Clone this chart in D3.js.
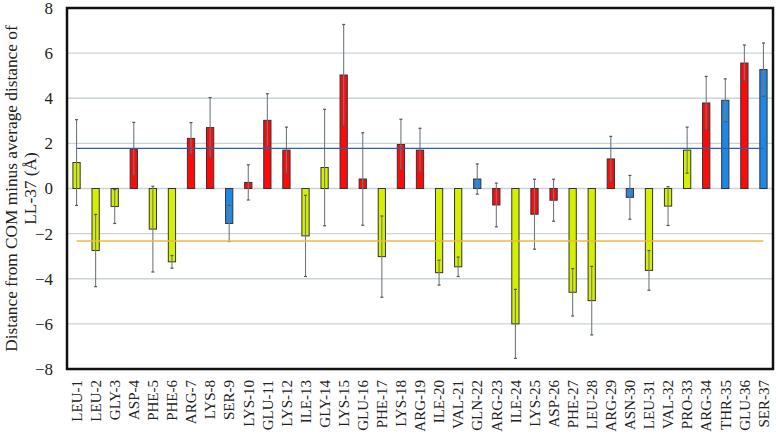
<!DOCTYPE html>
<html>
<head>
<meta charset="utf-8">
<script src="https://cdn.jsdelivr.net/npm/d3@7"></script>
<style>
  body { margin: 0; background: #fff; }
</style>
</head>
<body>
<div id="chart-area"></div>
<script>
const residues = ["LEU-1","LEU-2","GLY-3","ASP-4","PHE-5","PHE-6","ARG-7","LYS-8","SER-9","LYS-10",
  "GLU-11","LYS-12","ILE-13","GLY-14","LYS-15","GLU-16","PHE-17","LYS-18","ARG-19","ILE-20",
  "VAL-21","GLN-22","ARG-23","ILE-24","LYS-25","ASP-26","PHE-27","LEU-28","ARG-29","ASN-30",
  "LEU-31","VAL-32","PRO-33","ARG-34","THR-35","GLU-36","SER-37"];
const values = [1.15,-2.75,-0.8,1.75,-1.8,-3.25,2.22,2.7,-1.55,0.27,
  3.02,1.7,-2.1,0.93,5.03,0.42,-3.02,1.95,1.7,-3.73,
  -3.47,0.42,-0.73,-6.0,-1.14,-0.52,-4.6,-4.97,1.31,-0.39,
  -3.63,-0.78,1.7,3.79,3.91,5.56,5.27];
const errors = [1.9,1.6,0.75,1.18,1.9,0.28,0.7,1.33,0.8,0.78,
  1.18,1.02,1.8,2.58,2.24,2.05,1.8,1.12,0.97,0.55,
  0.43,0.67,0.97,1.53,1.55,0.93,1.05,1.52,1.0,0.97,
  0.88,0.86,1.02,1.18,0.95,0.8,1.18];
// residue class: h = hydrophobic, c = charged, p = polar
const classes = ["h","h","h","c","h","h","c","c","p","c",
  "c","c","h","h","c","c","h","c","c","h",
  "h","p","c","h","c","c","h","h","c","p",
  "h","h","h","c","p","c","p"];
const yTicks = [-8,-6,-4,-2,0,2,4,6,8];
const upperLine = 1.78;
const lowerLine = -2.33;

const colors = { h: "#d4ef00", c: "#ff0a0a", p: "#1e88e8" };
const serif = "'Liberation Serif', 'Times New Roman', serif";

const margin = { top: 8, right: 3, bottom: 72, left: 67 };
const width = 776 - margin.left - margin.right;
const height = 441 - margin.top - margin.bottom;

const svg = d3.select("#chart-area")
  .append("svg")
    .attr("width", 776)
    .attr("height", 441);

const g = svg.append("g")
  .attr("transform", `translate(${margin.left}, ${margin.top})`);

const x = d3.scaleBand()
  .domain(residues)
  .range([0, width])
  .paddingInner(0.62)
  .paddingOuter(0.31);

const y = d3.scaleLinear()
  .domain([-8, 8])
  .range([height, 0]);

// gridlines
g.append("g")
  .selectAll("line")
  .data(yTicks.filter(d => d !== 8 && d !== -8))
  .join("line")
    .attr("x1", 0)
    .attr("x2", width)
    .attr("y1", d => y(d))
    .attr("y2", d => y(d))
    .attr("stroke", "#c9d3da")
    .attr("stroke-width", 1.3);

// bars
g.selectAll("rect.bar")
  .data(residues)
  .join("rect")
    .attr("class", "bar")
    .attr("x", d => x(d))
    .attr("y", (d, i) => y(Math.max(0, values[i])))
    .attr("width", x.bandwidth())
    .attr("height", (d, i) => Math.abs(y(values[i]) - y(0)))
    .attr("fill", (d, i) => colors[classes[i]])
    .attr("stroke", "#333")
    .attr("stroke-width", 1);

// error bars
const eb = g.append("g")
  .selectAll("g")
  .data(residues)
  .join("g")
    .attr("transform", d => `translate(${x(d) + x.bandwidth() / 2}, 0)`);

eb.append("line")
  .attr("y1", (d, i) => y(values[i] - errors[i]))
  .attr("y2", (d, i) => y(values[i] + errors[i]))
  .attr("stroke", "#737a7e")
  .attr("stroke-width", 1.1);

eb.selectAll("line.cap")
  .data((d, i) => [values[i] - errors[i], values[i] + errors[i]])
  .join("line")
    .attr("class", "cap")
    .attr("x1", -1.5)
    .attr("x2", 1.5)
    .attr("y1", d => y(d))
    .attr("y2", d => y(d))
    .attr("stroke", "#555")
    .attr("stroke-width", 1.2);

// average lines
const x0 = x(residues[0]) + x.bandwidth() / 2;
const x1 = x(residues[residues.length - 1]) + x.bandwidth() / 2;
g.append("line")
  .attr("x1", x0).attr("x2", x1)
  .attr("y1", y(upperLine)).attr("y2", y(upperLine))
  .attr("stroke", "#2f5fa8")
  .attr("stroke-width", 1.3);
g.append("line")
  .attr("x1", x0).attr("x2", x1)
  .attr("y1", y(lowerLine)).attr("y2", y(lowerLine))
  .attr("stroke", "#f5b73c")
  .attr("stroke-width", 1.6);

// frame
g.append("rect")
  .attr("x", 0)
  .attr("y", 0)
  .attr("width", width)
  .attr("height", height)
  .attr("fill", "none")
  .attr("stroke", "#111")
  .attr("stroke-width", 2.5);

// y axis
const yAxisGroup = g.append("g")
  .call(d3.axisLeft(y).tickValues(yTicks).tickSize(0).tickPadding(14));
yAxisGroup.select(".domain").remove();
yAxisGroup.selectAll("text")
  .style("font-family", serif)
  .style("font-size", "17px")
  .attr("fill", "#222");

// x axis
const xAxisGroup = g.append("g")
  .attr("transform", `translate(0, ${height})`)
  .call(d3.axisBottom(x).tickSize(0).tickPadding(0));
xAxisGroup.select(".domain").remove();
xAxisGroup.selectAll("text")
  .style("font-family", serif)
  .style("font-size", "15px")
  .attr("fill", "#222")
  .attr("text-anchor", "end")
  .attr("dy", "0.35em")
  .attr("x", -11)
  .attr("y", 0)
  .attr("transform", "rotate(-90)");

// y label
const yLabel = svg.append("text")
  .attr("transform", `translate(17, ${margin.top + y(0)}) rotate(-90)`)
  .attr("text-anchor", "middle")
  .attr("fill", "#222")
  .style("font-family", serif)
  .style("font-size", "17.3px");
yLabel.append("tspan")
  .attr("x", 0)
  .attr("y", 0)
  .text("Distance from COM minus average distance of");
yLabel.append("tspan")
  .attr("x", 0)
  .attr("y", 19)
  .text("LL-37 (Å)");
</script>
</body>
</html>
